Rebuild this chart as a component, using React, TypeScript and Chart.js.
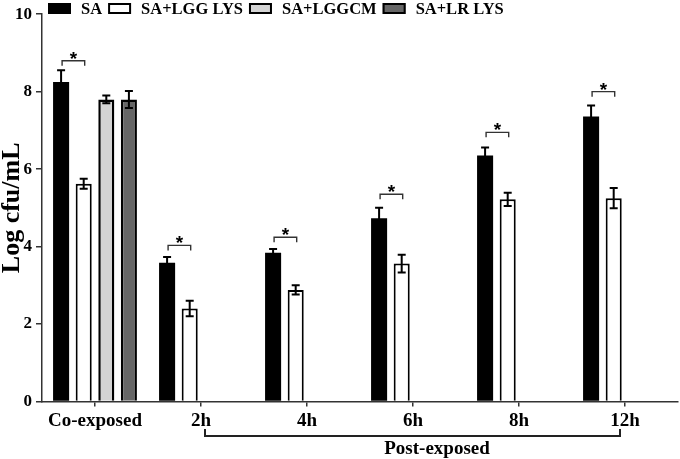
import { useEffect, useRef } from 'react';
import { Chart, registerables } from 'chart.js';

Chart.register(...registerables);

const categories = ['Co-exposed', '2h', '4h', '6h', '8h', '12h'];
const seriesLabels = ['SA', 'SA+LGG LYS', 'SA+LGGCM', 'SA+LR LYS'];
const saValues = [8.25, 3.58, 3.84, 4.73, 6.35, 7.36];
const saErrors = [0.3, 0.15, 0.1, 0.27, 0.21, 0.28];
const lggLysValues = [5.62, 2.4, 2.88, 3.56, 5.22, 5.25];
const lggLysErrors = [0.13, 0.2, 0.12, 0.23, 0.17, 0.26];
const lggcmValues = [7.8, null, null, null, null, null];
const lggcmErrors = [0.1, null, null, null, null, null];
const lrLysValues = [7.8, null, null, null, null, null];
const lrLysErrors = [0.22, null, null, null, null, null];
const bracketLevels = [8.8, 4.03, 4.24, 5.35, 6.95, 8.0];
const yTicks = [0, 2, 4, 6, 8, 10];
const groupLabel = 'Post-exposed';
const yTitle = 'Log cfu/mL';

const FONT = "'Liberation Serif', 'Times New Roman', serif";
const AXIS = '#333';

const legendPlugin = {
  id: 'customLegend',
  afterDraw(chart: any) {
    const ctx = chart.ctx;
    ctx.save();
    ctx.font = `bold 16.5px ${FONT}`;
    ctx.textBaseline = 'middle';
    ctx.textAlign = 'left';
    let x = 48;
    const top = 3;
    const bw = 23;
    const bh = 11;
    chart.data.datasets.forEach((ds: any) => {
      ctx.fillStyle = ds.backgroundColor;
      ctx.fillRect(x, top, bw, bh);
      ctx.strokeStyle = '#000';
      ctx.lineWidth = 2;
      ctx.strokeRect(x + 1, top + 1, bw - 2, bh - 2);
      x += bw + 10;
      ctx.fillStyle = '#000';
      ctx.fillText(ds.label, x, top + bh / 2 + 1);
      x += ctx.measureText(ds.label).width + 6;
    });
    ctx.restore();
  },
};

const errorBarPlugin = {
  id: 'errorBars',
  afterDatasetsDraw(chart: any) {
    const ctx = chart.ctx;
    const y = chart.scales.y;
    ctx.save();
    ctx.strokeStyle = '#000';
    ctx.lineWidth = 2;
    chart.data.datasets.forEach((ds: any, di: number) => {
      const meta = chart.getDatasetMeta(di);
      meta.data.forEach((bar: any, i: number) => {
        const v = ds.data[i];
        const e = ds.errors[i];
        if (v == null || e == null) return;
        const x = bar.x;
        const yt = y.getPixelForValue(v + e);
        const yb = y.getPixelForValue(v - e);
        ctx.beginPath();
        ctx.moveTo(x, yt);
        ctx.lineTo(x, yb);
        ctx.moveTo(x - 4, yt);
        ctx.lineTo(x + 4, yt);
        ctx.moveTo(x - 4, yb);
        ctx.lineTo(x + 4, yb);
        ctx.stroke();
      });
    });
    ctx.restore();
  },
};

const annotationPlugin = {
  id: 'brackets',
  afterDraw(chart: any) {
    const ctx = chart.ctx;
    const y = chart.scales.y;
    const xs = chart.scales.x;
    const m0 = chart.getDatasetMeta(0);
    const m1 = chart.getDatasetMeta(1);
    ctx.save();
    ctx.strokeStyle = AXIS;
    ctx.lineWidth = 1.4;
    ctx.fillStyle = '#000';
    ctx.textAlign = 'center';
    ctx.textBaseline = 'alphabetic';
    ctx.font = `bold 19px 'Liberation Sans', sans-serif`;
    bracketLevels.forEach((lvl, i) => {
      const x1 = m0.data[i].x + 1;
      const x2 = m1.data[i].x + 1;
      const py = y.getPixelForValue(lvl);
      ctx.beginPath();
      ctx.moveTo(x1, py + 5);
      ctx.lineTo(x1, py);
      ctx.lineTo(x2, py);
      ctx.lineTo(x2, py + 5);
      ctx.stroke();
      ctx.fillText('*', (x1 + x2) / 2, py + 4);
    });
    // Post-exposed bracket
    const a = xs.getPixelForTick(1) + 4;
    const b = xs.getPixelForTick(5) - 5;
    ctx.strokeStyle = '#222';
    ctx.lineWidth = 2;
    ctx.beginPath();
    ctx.moveTo(a, 429);
    ctx.lineTo(a, 436);
    ctx.lineTo(b, 436);
    ctx.lineTo(b, 429);
    ctx.stroke();
    ctx.font = `bold 19px ${FONT}`;
    ctx.textBaseline = 'middle';
    ctx.fillText(groupLabel, xs.getPixelForTick(3) + 24, 449);
    ctx.restore();
  },
};

export default function App() {
  const ref = useRef<HTMLCanvasElement>(null);
  useEffect(() => {
    if (!ref.current) return;
    const chart = new Chart(ref.current, {
      type: 'bar',
      data: {
        labels: categories,
        datasets: [
          { label: seriesLabels[0], data: saValues, errors: saErrors, backgroundColor: '#000000', borderColor: '#000', borderWidth: 0 } as any,
          { label: seriesLabels[1], data: lggLysValues, errors: lggLysErrors, backgroundColor: '#ffffff', borderColor: '#000', borderWidth: 2 } as any,
          { label: seriesLabels[2], data: lggcmValues, errors: lggcmErrors, backgroundColor: '#d4d4d4', borderColor: '#000', borderWidth: 2.5 } as any,
          { label: seriesLabels[3], data: lrLysValues, errors: lrLysErrors, backgroundColor: '#666666', borderColor: '#000', borderWidth: 2.5 } as any,
        ],
      },
      options: {
        responsive: false,
        animation: false,
        layout: { padding: { top: 11, right: 2, left: 0, bottom: 0 } },
        datasets: { bar: { categoryPercentage: 0.853, barPercentage: 0.71 } },
        plugins: { legend: { display: false }, tooltip: { enabled: false } },
        scales: {
          x: {
            type: 'category',
            offset: true,
            grid: { display: true, drawOnChartArea: false, drawTicks: true, tickLength: 5, offset: false, color: AXIS, lineWidth: 1.5 },
            border: { display: true, color: AXIS, width: 1.5 },
            ticks: { color: '#000', font: { family: FONT, size: 19, weight: 'bold' }, padding: 3, maxRotation: 0, autoSkip: false },
            afterFit: (s: any) => { s.height = 57.5; },
          },
          y: {
            min: 0,
            max: 10,
            afterBuildTicks: (s: any) => { s.ticks = yTicks.map((v) => ({ value: v })); },
            grid: { display: true, drawOnChartArea: false, drawTicks: true, tickLength: 6, color: AXIS, lineWidth: 1.5 },
            border: { display: true, color: AXIS, width: 1.5 },
            ticks: { color: '#000', font: { family: FONT, size: 17, weight: 'bold' }, padding: 4 },
            title: { display: true, text: yTitle, color: '#000', font: { family: FONT, size: 26, weight: 'bold', lineHeight: 1 }, padding: { top: -1, bottom: 0 } },
            afterFit: (s: any) => { s.width = 42; },
          },
        },
      },
      plugins: [errorBarPlugin, annotationPlugin, legendPlugin],
    } as any);
    return () => chart.destroy();
  }, []);
  return (
    <div style={{ position: 'absolute', left: 0, top: 0, width: 680, height: 459, background: '#fff' }}>
      <canvas ref={ref} width={680} height={459} />
    </div>
  );
}
